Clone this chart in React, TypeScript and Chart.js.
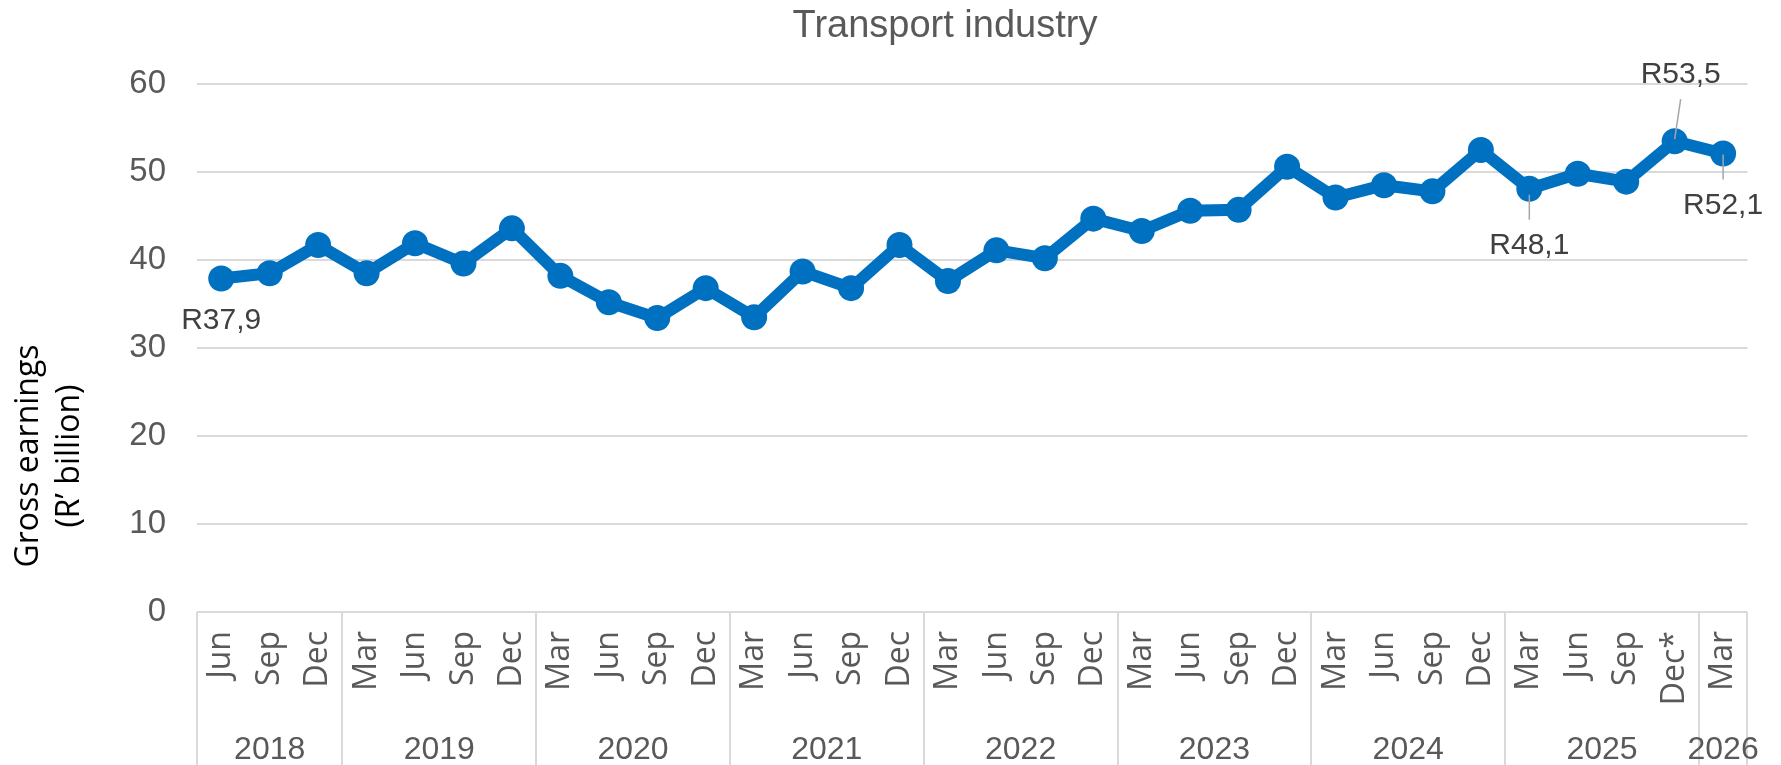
import React, { useEffect, useRef } from 'react';
import { Chart, registerables } from 'chart.js';

Chart.register(...registerables);

// ---- Data ----
const months = [
  'Jun', 'Sep', 'Dec',
  'Mar', 'Jun', 'Sep', 'Dec',
  'Mar', 'Jun', 'Sep', 'Dec',
  'Mar', 'Jun', 'Sep', 'Dec',
  'Mar', 'Jun', 'Sep', 'Dec',
  'Mar', 'Jun', 'Sep', 'Dec',
  'Mar', 'Jun', 'Sep', 'Dec',
  'Mar', 'Jun', 'Sep', 'Dec*',
  'Mar',
];
const years = ['2018', '2019', '2020', '2021', '2022', '2023', '2024', '2025', '2026'];
const quartersPerYear = [3, 4, 4, 4, 4, 4, 4, 4, 1];
const earnings = [
  37.9, 38.5, 41.7,
  38.5, 41.9, 39.6, 43.6,
  38.2, 35.2, 33.4, 36.8,
  33.5, 38.7, 36.8, 41.7,
  37.6, 41.1, 40.2, 44.7,
  43.3, 45.6, 45.7, 50.6,
  47.1, 48.5, 47.8, 52.5,
  48.1, 49.8, 48.9, 53.5,
  52.1,
];
const labelledPoints = [0, 27, 30, 31];
const yTicks = [0, 10, 20, 30, 40, 50, 60];

const chartTitle = 'Transport industry';
const yTitle = ['Gross earnings', '(R\u2019 billion)'];

const W = 1781;
const H = 765;

// label placement relative to the point (pixels)
const labelPlacement: Record<number, { dx: number; dy: number; lead?: number[] }> = {
  0: { dx: 0, dy: 42 },
  27: { dx: 0, dy: 57, lead: [0, 6, 0, 31] },
  30: { dx: 6, dy: -66, lead: [6, -42, 0, -2] },
  31: { dx: 0, dy: 52, lead: [0, 1, 0, 26] },
};

const fmt = (v: number) => 'R' + v.toFixed(1).replace('.', ',');

export default function App() {
  const ref = useRef<HTMLCanvasElement | null>(null);

  useEffect(() => {
    document.body.style.margin = '0';
    const canvas = ref.current;
    if (!canvas) return;

    const decor = {
      id: 'decor',
      afterDatasetsDraw(chart: any) {
        const ctx = chart.ctx as CanvasRenderingContext2D;
        const meta = chart.getDatasetMeta(0);
        ctx.save();
        ctx.font = '30px "Liberation Sans", Arial, sans-serif';
        ctx.fillStyle = '#404040';
        ctx.textAlign = 'center';
        ctx.textBaseline = 'middle';
        for (const i of labelledPoints) {
          const pt = meta.data[i];
          const p = labelPlacement[i];
          if (!pt || !p) continue;
          if (p.lead) {
            ctx.strokeStyle = '#a6a6a6';
            ctx.lineWidth = 1.5;
            ctx.beginPath();
            ctx.moveTo(pt.x + p.lead[0], pt.y + p.lead[1]);
            ctx.lineTo(pt.x + p.lead[2], pt.y + p.lead[3]);
            ctx.stroke();
          }
          ctx.fillText(fmt(earnings[i]), pt.x + p.dx, pt.y + p.dy);
        }
        ctx.restore();
      },
      afterDraw(chart: any) {
        const ctx = chart.ctx as CanvasRenderingContext2D;
        const area = chart.chartArea;
        const xs = chart.scales.x;
        ctx.save();
        // title
        ctx.font = '38px "Liberation Sans", Arial, sans-serif';
        ctx.fillStyle = '#595959';
        ctx.textAlign = 'center';
        ctx.textBaseline = 'alphabetic';
        ctx.fillText(chartTitle, 945, 37);

        // y axis title
        ctx.save();
        ctx.translate(29, 456);
        ctx.rotate(-Math.PI / 2);
        ctx.font = '32px "Open Sans", sans-serif';
        ctx.fillStyle = '#000000';
        ctx.textAlign = 'center';
        ctx.textBaseline = 'middle';
        yTitle.forEach((t, k) => ctx.fillText(t, 0, k * 41));
        ctx.restore();

        // year group separators and labels
        const bounds: number[] = [area.left];
        let idx = 0;
        quartersPerYear.forEach((n, k) => {
          idx += n;
          if (k < quartersPerYear.length - 1) {
            bounds.push((xs.getPixelForValue(idx - 1) + xs.getPixelForValue(idx)) / 2);
          } else {
            bounds.push(area.right);
          }
        });
        ctx.strokeStyle = '#d9d9d9';
        ctx.lineWidth = 2;
        for (const b of bounds) {
          ctx.beginPath();
          ctx.moveTo(Math.round(b), area.bottom);
          ctx.lineTo(Math.round(b), H);
          ctx.stroke();
        }
        ctx.font = '32px "Liberation Sans", Arial, sans-serif';
        ctx.fillStyle = '#595959';
        ctx.textAlign = 'center';
        ctx.textBaseline = 'alphabetic';
        years.forEach((y, k) => {
          ctx.fillText(y, (bounds[k] + bounds[k + 1]) / 2, 759);
        });
        ctx.restore();
      },
    };

    const chart = new Chart(canvas, {
      type: 'line',
      data: {
        labels: months,
        datasets: [
          {
            data: earnings,
            borderColor: '#0070C0',
            backgroundColor: '#0070C0',
            borderWidth: 12,
            pointRadius: 13,
            pointBorderWidth: 0,
            pointBackgroundColor: '#0070C0',
            tension: 0,
            fill: false,
          },
        ],
      },
      options: {
        responsive: false,
        animation: false,
        events: [],
        layout: { padding: { top: 84, right: 31, left: 0, bottom: 0 } },
        plugins: {
          legend: { display: false },
          title: { display: false },
          tooltip: { enabled: false },
        },
        scales: {
          x: {
            type: 'category',
            offset: true,
            grid: { display: false, drawTicks: false },
            border: { display: false },
            ticks: {
              autoSkip: false,
              maxRotation: 90,
              minRotation: 90,
              padding: 19,
              color: '#595959',
              font: { family: '"Open Sans", sans-serif', size: 32 },
            },
            afterFit: (s: any) => {
              s.height = 153;
            },
          },
          y: {
            min: yTicks[0],
            max: yTicks[yTicks.length - 1],
            afterBuildTicks: (s: any) => {
              s.ticks = yTicks.map((v) => ({ value: v }));
            },
            grid: { color: '#d9d9d9', lineWidth: 2, drawTicks: false },
            border: { display: false },
            ticks: {
              padding: 31,
              color: '#595959',
              font: { family: '"Liberation Sans", Arial, sans-serif', size: 33 },
            },
            afterFit: (s: any) => {
              s.width = 197;
            },
          },
        },
      },
      plugins: [decor],
    });

    return () => chart.destroy();
  }, []);

  return (
    <div style={{ width: W, height: H }}>
      <canvas ref={ref} width={W} height={H} style={{ display: 'block' }} />
    </div>
  );
}
